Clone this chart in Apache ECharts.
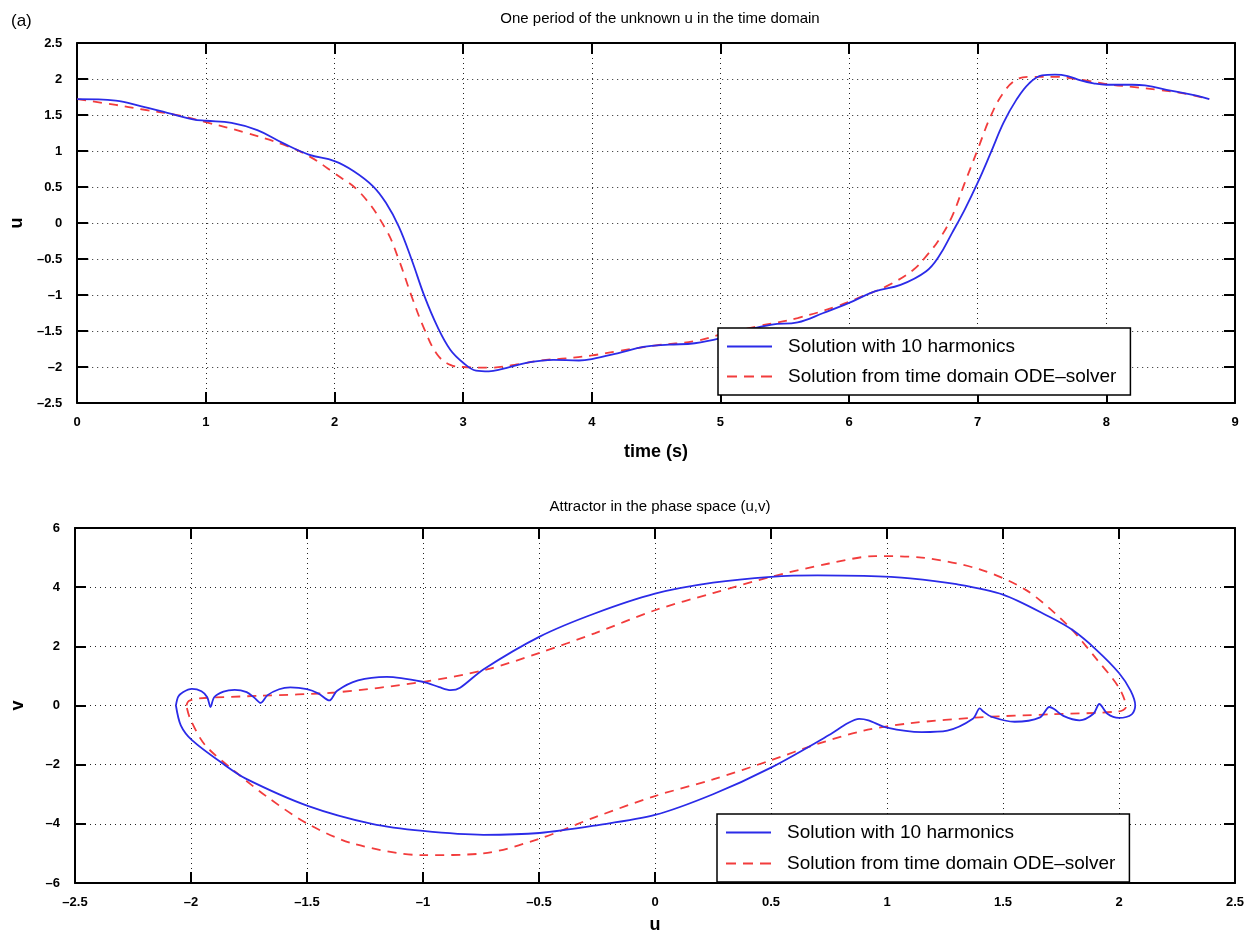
<!DOCTYPE html>
<html>
<head>
<meta http-equiv="Content-Type" content="text/html; charset=utf-8" />
<title>u in time domain and phase space</title>
<script type="text/javascript" src="https://cdn.jsdelivr.net/npm/echarts@6/dist/echarts.min.js"></script>
<style>
  html, body { margin: 0; padding: 0; background: #fff; }
  #main { width: 1257px; height: 935px; }
</style>
</head>
<body>
<div id="main"></div>
<script type="text/javascript">
	// top plot: u(t), one period
	var tBlue = [0,0.3,0.5,0.7,0.9,1.0,1.2,1.4,1.6,1.8,2.0,2.15,2.3,2.4,2.5,2.6,2.7,2.8,2.9,3.0,3.1,3.2,3.3,3.5,3.7,3.9,4.0,4.2,4.4,4.6,4.8,5.0,5.2,5.4,5.6,5.8,6.0,6.2,6.4,6.6,6.7,6.8,6.9,7.0,7.1,7.2,7.3,7.4,7.5,7.6,7.7,7.8,7.9,8.0,8.2,8.3,8.5,8.7,8.8];
	var uBlue = [1.72,1.70,1.62,1.53,1.44,1.42,1.39,1.29,1.11,0.95,0.86,0.72,0.51,0.28,-0.05,-0.51,-1.02,-1.44,-1.76,-1.94,-2.05,-2.06,-2.03,-1.94,-1.90,-1.91,-1.89,-1.81,-1.72,-1.69,-1.67,-1.60,-1.49,-1.41,-1.38,-1.25,-1.11,-0.95,-0.86,-0.67,-0.46,-0.14,0.19,0.56,0.97,1.39,1.71,1.94,2.05,2.06,2.04,1.98,1.94,1.92,1.92,1.91,1.84,1.77,1.72];
	var tRed = [0,0.3,0.5,0.8,1.0,1.3,1.6,1.8,2.0,2.2,2.4,2.5,2.6,2.7,2.8,2.9,3.0,3.2,3.4,3.6,3.8,4.0,4.2,4.5,4.8,5.0,5.3,5.6,5.9,6.1,6.3,6.5,6.6,6.7,6.8,6.9,7.0,7.1,7.2,7.3,7.4,7.6,7.8,8.0,8.2,8.4,8.6,8.8];
	var uRed = [1.72,1.64,1.58,1.49,1.40,1.26,1.09,0.93,0.69,0.42,-0.09,-0.51,-1.02,-1.48,-1.83,-1.97,-2.0,-2.01,-1.97,-1.91,-1.88,-1.84,-1.78,-1.70,-1.64,-1.55,-1.43,-1.32,-1.16,-1.02,-0.87,-0.65,-0.46,-0.23,0.09,0.56,1.02,1.48,1.81,1.99,2.03,2.03,1.99,1.93,1.89,1.85,1.80,1.72];

	// bottom plot: attractor (u,v), closed loops
	var pBlueU = [-2.065,-2.055,-2.035,-1.996,-1.955,-1.93,-1.916,-1.90,-1.86,-1.812,-1.76,-1.725,-1.70,-1.67,-1.62,-1.572,-1.5,-1.45,-1.404,-1.37,-1.28,-1.156,-1.0,-0.93,-0.881,-0.84,-0.74,-0.497,-0.26,0.0,0.25,0.5,0.7,0.9,1.1,1.3,1.5,1.7,1.8,1.9,2.0,2.05,2.07,2.055,2.0,1.95,1.915,1.89,1.83,1.76,1.72,1.70,1.66,1.55,1.45,1.415,1.40,1.37,1.26,1.15,1.0,0.92,0.88,0.83,0.75,0.5,0.25,0.0,-0.26,-0.497,-0.74,-1.0,-1.22,-1.497,-1.764,-1.86,-1.996,-2.044,-2.065];
	var pBlueV = [0.0,0.3,0.45,0.56,0.48,0.28,-0.05,0.28,0.47,0.53,0.45,0.25,0.09,0.35,0.55,0.61,0.55,0.4,0.17,0.5,0.85,0.97,0.8,0.62,0.52,0.6,1.22,2.33,3.11,3.78,4.15,4.35,4.4,4.38,4.3,4.1,3.75,3.0,2.55,1.9,1.1,0.5,0.0,-0.3,-0.42,-0.28,0.05,-0.28,-0.5,-0.35,-0.12,-0.05,-0.4,-0.55,-0.38,-0.2,-0.1,-0.45,-0.85,-0.9,-0.75,-0.5,-0.45,-0.6,-1.0,-2.1,-3.0,-3.7,-4.06,-4.31,-4.37,-4.24,-4.0,-3.39,-2.47,-1.98,-1.17,-0.67,0.0];
	var pRedU = [-2.02,-2.01,-1.97,-1.7,-1.38,-1.0,-0.724,-0.497,-0.26,0.0,0.25,0.5,0.75,0.95,1.15,1.4,1.6,1.78,1.9,2.0,2.03,2.0,1.7,1.4,1.1,0.9,0.7,0.5,0.25,0.0,-0.26,-0.497,-0.74,-1.0,-1.3,-1.497,-1.668,-1.812,-1.94,-2.004,-2.02];
	var pRedV = [0.0,0.15,0.24,0.33,0.44,0.8,1.22,1.78,2.44,3.22,3.8,4.35,4.8,5.05,5.0,4.6,3.9,2.7,1.6,0.6,-0.05,-0.2,-0.3,-0.4,-0.6,-0.85,-1.3,-1.85,-2.5,-3.06,-3.78,-4.5,-5.0,-5.06,-4.67,-4.0,-3.11,-2.22,-1.33,-0.44,0.0];

	var nameBlue = 'Solution with 10 harmonics';
	var nameRed = 'Solution from time domain ODE\u2013solver';

	function zip(a, b){
		var out = [];
		for (var i = 0; i < a.length; i++) {
			out.push([a[i], b[i]]);
		}
		return out;
	}
	function fmt(v){
		return String(v).replace('-', '\u2013');
	}

	// one axis of a boxed plot; showLabel false for the top / right copies
	function axis(grid, pos, min, max, step, showLabel, name, gap){
		var isX = (pos == 'bottom' || pos == 'top');
		return {
			type: 'value',
			gridIndex: grid,
			position: pos,
			min: min, max: max, interval: step,
			name: name || '',
			nameLocation: 'middle',
			nameGap: gap || 0,
			nameRotate: isX ? 0 : 90,
			nameTextStyle: { fontFamily: 'Liberation Sans', fontWeight: 'bold', fontSize: 18, color: '#000' },
			axisLine: { show: true, onZero: false, lineStyle: { color: '#000', width: 2 } },
			axisTick: { show: true, inside: true, length: 11, lineStyle: { color: '#000', width: 2 } },
			axisLabel: {
				show: showLabel,
				margin: isX ? 13 : 15,
				formatter: fmt,
				fontFamily: 'Liberation Sans', fontWeight: 'bold', fontSize: 13, color: '#000'
			},
			splitLine: {
				show: showLabel,
				lineStyle: { color: '#222', width: 1, type: [1, 4] }
			}
		};
	}

	// legend keys drawn as a plain line and a dashed line
	var iconSolid = 'path://M0,0H45V2H0Z';
	var iconDash = 'path://M0,0H10V2H0Z M17,0H27V2H17Z M34,0H45V2H34Z';

	function legendAt(left, top, gap){
		return {
			left: left, top: top,
			orient: 'vertical',
			data: [{ name: nameBlue, icon: iconSolid }, { name: nameRed, icon: iconDash }],
			backgroundColor: '#fff',
			borderColor: '#000',
			borderWidth: 1.5,
			borderRadius: 0,
			padding: [9, 14, 9, 9],
			itemWidth: 45,
			itemHeight: 2,
			itemGap: gap,
			symbolKeepAspect: false,
			selectedMode: false,
			textStyle: { fontFamily: 'Liberation Sans', fontSize: 19, color: '#000', padding: [0, 0, 0, 11] }
		};
	}

	var blueLine = { color: '#2b2be8', width: 1.8 };
	var redLine = { color: '#f23c3c', width: 1.8, type: [9, 7] };

	var chart = echarts.init(document.getElementById('main'), null, { renderer: 'canvas' });
	var option = {
		backgroundColor: '#fff',
		animation: false,
		title: [
			{ text: 'One period of the unknown u in the time domain', left: 655, top: 6, textAlign: 'center',
			  textStyle: { fontFamily: 'Liberation Sans', fontWeight: 'normal', fontSize: 15, color: '#000' } },
			{ text: 'Attractor in the phase space (u,v)', left: 655, top: 494, textAlign: 'center',
			  textStyle: { fontFamily: 'Liberation Sans', fontWeight: 'normal', fontSize: 15, color: '#000' } },
			{ text: '(a)', left: 6, top: 8,
			  textStyle: { fontFamily: 'Liberation Sans', fontWeight: 'normal', fontSize: 17, color: '#000' } }
		],
		legend: [legendAt(718, 328, 11), legendAt(717, 814, 12)],
		grid: [
			{ left: 75, top: 43, width: 1160, height: 360, show: false },
			{ left: 75, top: 528, width: 1160, height: 359, show: false }
		],
		xAxis: [
			axis(0, 'bottom', 0, 9, 1, true, 'time (s)', 40),
			axis(0, 'top', 0, 9, 1, false),
			axis(1, 'bottom', -2.5, 2.5, 0.5, true, 'u', 33),
			axis(1, 'top', -2.5, 2.5, 0.5, false)
		],
		yAxis: [
			axis(0, 'left', -2.5, 2.5, 0.5, true, 'u', 42),
			axis(0, 'right', -2.5, 2.5, 0.5, false),
			axis(1, 'left', -6, 6, 2, true, 'v', 48),
			axis(1, 'right', -6, 6, 2, false)
		],
		series: [
			{ name: nameBlue, type: 'line', xAxisIndex: 0, yAxisIndex: 0, data: zip(tBlue, uBlue),
			  smooth: 0.4, symbol: 'none', lineStyle: blueLine, itemStyle: { color: blueLine.color }, z: 3 },
			{ name: nameRed, type: 'line', xAxisIndex: 0, yAxisIndex: 0, data: zip(tRed, uRed),
			  smooth: 0.4, symbol: 'none', lineStyle: redLine, itemStyle: { color: redLine.color }, z: 2 },
			{ name: nameBlue, type: 'line', xAxisIndex: 2, yAxisIndex: 2, data: zip(pBlueU, pBlueV),
			  smooth: 0.3, symbol: 'none', lineStyle: blueLine, itemStyle: { color: blueLine.color }, z: 3 },
			{ name: nameRed, type: 'line', xAxisIndex: 2, yAxisIndex: 2, data: zip(pRedU, pRedV),
			  smooth: 0.3, symbol: 'none', lineStyle: redLine, itemStyle: { color: redLine.color }, z: 2 }
		]
	};
	chart.setOption(option);
</script>
</body>
</html>
